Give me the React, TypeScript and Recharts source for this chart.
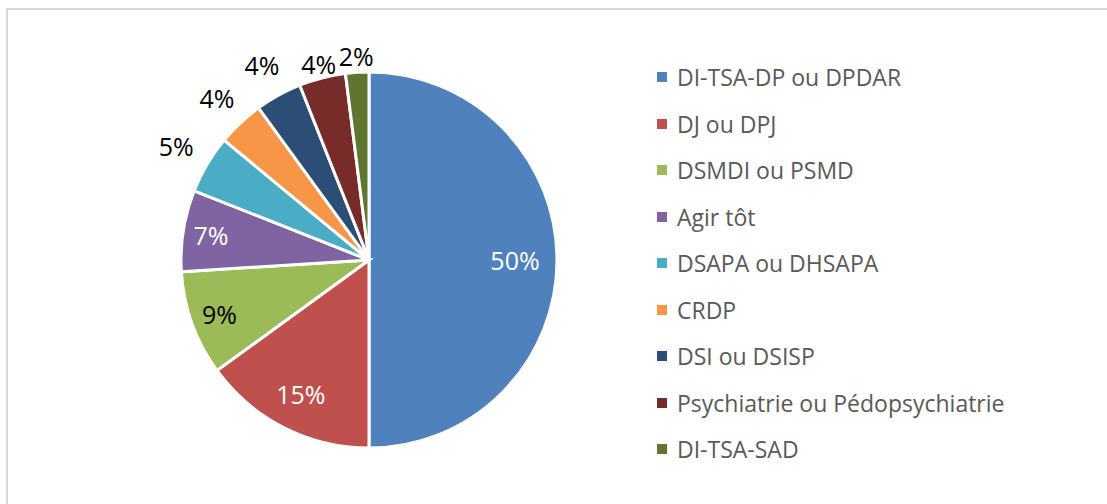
import { PieChart, Pie, Cell, Legend } from 'recharts'

// Répartition par direction (%)
const categories = [
  'DI-TSA-DP ou DPDAR',
  'DJ ou DPJ',
  'DSMDI ou PSMD',
  'Agir tôt',
  'DSAPA ou DHSAPA',
  'CRDP',
  'DSI ou DSISP',
  'Psychiatrie ou Pédopsychiatrie',
  'DI-TSA-SAD',
]
const values = [50, 15, 9, 7, 5, 4, 4, 4, 2]
const colors = ['#4F81BD', '#C0504D', '#9BBB59', '#8064A2', '#4BACC6', '#F79646', '#2C4D75', '#772C2A', '#5F7530']
// étiquettes blanches dans les grosses parts, noires ailleurs
const labelColors = ['#fff', '#fff', '#000', '#fff', '#000', '#000', '#000', '#000', '#000']
// distance de l'étiquette au centre, en px (placement "meilleur ajustement" d'Excel)
const labelRadius = [146, 150, 159, 160, 224, 222, 222, 202, 204]

const data = categories.map((name, i) => ({ name, value: values[i] }))

const FONT = '"Open Sans", sans-serif'
const RAD = Math.PI / 180

function renderLabel(props: any) {
  const { cx, cy, midAngle, index, value } = props
  const r = labelRadius[index]
  const x = cx + r * Math.cos(-midAngle * RAD)
  const y = cy + r * Math.sin(-midAngle * RAD)
  return (
    <text
      x={x}
      y={y}
      fill={labelColors[index]}
      textAnchor="middle"
      dominantBaseline="central"
      fontFamily={FONT}
      fontSize={25}
    >
      {`${value}%`}
    </text>
  )
}

function LegendList() {
  return (
    <div style={{ fontFamily: FONT, fontSize: 23, color: '#595959' }}>
      {categories.map((c, i) => (
        <div key={c} style={{ display: 'flex', alignItems: 'center', height: 46.5 }}>
          <span style={{ width: 10, height: 10, background: colors[i], marginRight: 10, flexShrink: 0 }} />
          <span style={{ whiteSpace: 'nowrap' }}>{c}</span>
        </div>
      ))}
    </div>
  )
}

export default function App() {
  return (
    <div style={{ position: 'absolute', left: 0, top: 0, width: 1107, height: 504, overflow: 'hidden', background: '#fff' }}>
      <div
        style={{
          position: 'absolute',
          left: 6,
          top: 8,
          width: 1200,
          height: 600,
          border: '2px solid #d9d9d9',
        }}
      />
      <div style={{ position: 'absolute', left: 0, top: 0 }}>
        <PieChart width={1107} height={504} margin={{ top: 0, right: 0, bottom: 0, left: 0 }}>
          <Pie
            data={data}
            dataKey="value"
            nameKey="name"
            cx={369}
            cy={260}
            outerRadius={188}
            startAngle={90}
            endAngle={-270}
            stroke="#fff"
            strokeWidth={3}
            label={renderLabel}
            labelLine={false}
            isAnimationActive={false}
          >
            {data.map((d, i) => (
              <Cell key={d.name} fill={colors[i]} />
            ))}
          </Pie>
          <Legend
            content={() => <LegendList />}
            wrapperStyle={{ position: 'absolute', left: 657, top: 54, width: 440 }}
          />
        </PieChart>
      </div>
    </div>
  )
}
